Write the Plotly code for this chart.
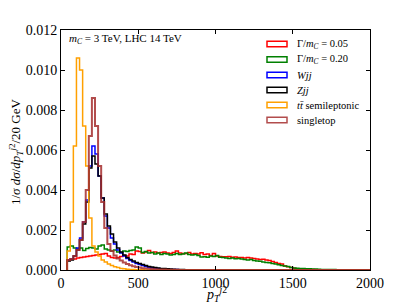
import numpy as np
import plotly.graph_objects as go

# ---- data: 20 GeV bins from 40 to 2000 GeV ----
BIN_EDGES = list(range(40, 2001, 20))

gamma005 = [
    0.00050, 0.00055, 0.00055, 0.00060, 0.00062, 0.00065, 0.00068, 0.00070, 0.00072, 0.00075,
    0.00078, 0.00080, 0.00082, 0.00070, 0.00062, 0.00060, 0.00062, 0.00068, 0.00072, 0.00070,
    0.00080, 0.00078, 0.00095, 0.00092, 0.00085, 0.00090, 0.00097, 0.00088, 0.00090, 0.00085,
    0.00088, 0.00090, 0.00085, 0.00083, 0.00087, 0.00095, 0.00085, 0.00082, 0.00083, 0.00088,
    0.00080, 0.00082, 0.00080, 0.00086, 0.00078, 0.00080, 0.00072, 0.00082, 0.00070, 0.00068,
    0.00066, 0.00066, 0.00068, 0.00064, 0.00065, 0.00063, 0.00062, 0.00060, 0.00062, 0.00060,
    0.00058, 0.00055, 0.00052, 0.00054, 0.00050, 0.00047, 0.00042, 0.00038, 0.00032, 0.00030,
    0.00020, 0.00016, 0.00012, 0.00009, 0.00006, 0.00005, 0.00004, 0.00003, 0.000025, 0.00002,
    0.000018, 0.000015, 0.000012, 0.00001, 0.00001, 0.000008, 0.000008, 0.000006, 0.000005, 0.000005,
    0.000004, 0.000004, 0.000003, 0.000003, 0.000002, 0.000002, 0.000002, 0.000001,
]

gamma020 = [
    0.00115, 0.00120, 0.00110, 0.00105, 0.00110, 0.00098, 0.00108, 0.00112, 0.00110, 0.00105,
    0.00120, 0.00125, 0.00105, 0.00100, 0.00095, 0.00100, 0.00090, 0.00088, 0.00095, 0.00092,
    0.00098, 0.00100, 0.00115, 0.00110, 0.00088, 0.00092, 0.00085, 0.00088, 0.00080, 0.00085,
    0.00078, 0.00082, 0.00080, 0.00075, 0.00078, 0.00083, 0.00078, 0.00080, 0.00085, 0.00078,
    0.00075, 0.00078, 0.00072, 0.00065, 0.00066, 0.00064, 0.00070, 0.00068, 0.00072, 0.00064,
    0.00062, 0.00060, 0.00058, 0.00060, 0.00056, 0.00058, 0.00055, 0.00053, 0.00050, 0.00052,
    0.00048, 0.00045, 0.00044, 0.00040, 0.00038, 0.00036, 0.00032, 0.00030, 0.00026, 0.00022,
    0.00020, 0.00017, 0.00013, 0.00010, 0.00009, 0.00008, 0.00007, 0.00006, 0.00006, 0.00005,
    0.00005, 0.00004, 0.00003, 0.00003, 0.000025, 0.00002, 0.00002, 0.000015, 0.000015, 0.00001,
    0.00001, 0.00001, 0.000008, 0.000008, 0.000006, 0.000005, 0.000004, 0.000003,
]

wjj = [
    0.00050, 0.00055, 0.00070, 0.00110, 0.00160, 0.00240, 0.00350, 0.00520, 0.00620, 0.00580,
    0.00470, 0.00360, 0.00270, 0.00210, 0.00160, 0.00130, 0.00100, 0.00085, 0.00070, 0.00058,
    0.00048, 0.00040, 0.00033, 0.00027, 0.00022, 0.00018, 0.00014, 0.00011, 0.00009, 0.00007,
    0.00006, 0.00005, 0.00004, 0.00003, 0.000025, 0.00002, 0.000015, 0.00001, 0.00001, 0.000008,
    0.000006, 0.000005, 0.000004, 0.000003, 0.000002, 0.000002, 0.000001, 0.000001, 0, 0,
    0, 0, 0, 0, 0, 0, 0, 0, 0, 0,
    0, 0, 0, 0, 0, 0, 0, 0, 0, 0,
    0, 0, 0, 0, 0, 0, 0, 0, 0, 0,
    0, 0, 0, 0, 0, 0, 0, 0, 0, 0,
    0, 0, 0, 0, 0, 0, 0, 0,
]

zjj = [
    0.00045, 0.00050, 0.00070, 0.00100, 0.00150, 0.00230, 0.00340, 0.00510, 0.00570, 0.00530,
    0.00470, 0.00360, 0.00280, 0.00220, 0.00180, 0.00140, 0.00110, 0.00090, 0.00075, 0.00063,
    0.00053, 0.00045, 0.00038, 0.00032, 0.00027, 0.00022, 0.00018, 0.00015, 0.00012, 0.00010,
    0.00008, 0.00007, 0.00006, 0.00005, 0.00004, 0.00003, 0.000025, 0.00002, 0.000015, 0.000012,
    0.00001, 0.000008, 0.000006, 0.000005, 0.000004, 0.000003, 0.000002, 0.000002, 0.000001, 0.000001,
    0, 0, 0, 0, 0, 0, 0, 0, 0, 0,
    0, 0, 0, 0, 0, 0, 0, 0, 0, 0,
    0, 0, 0, 0, 0, 0, 0, 0, 0, 0,
    0, 0, 0, 0, 0, 0, 0, 0, 0, 0,
    0, 0, 0, 0, 0, 0, 0, 0,
]

ttbar = [
    0.00095, 0.00240, 0.00620, 0.01060, 0.01000, 0.00720, 0.00520, 0.00260, 0.00120, 0.00090,
    0.00070, 0.00050, 0.00040, 0.00030, 0.00022, 0.00016, 0.00012, 0.00008, 0.00006, 0.00004,
    0.00003, 0.00002, 0.000015, 0.00001, 0.00001, 0.000005, 0.000003, 0.000002, 0, 0,
    0, 0, 0, 0, 0, 0, 0, 0, 0, 0,
    0, 0, 0, 0, 0, 0, 0, 0, 0, 0,
    0, 0, 0, 0, 0, 0, 0, 0, 0, 0,
    0, 0, 0, 0, 0, 0, 0, 0, 0, 0,
    0, 0, 0, 0, 0, 0, 0, 0, 0, 0,
    0, 0, 0, 0, 0, 0, 0, 0, 0, 0,
    0, 0, 0, 0, 0, 0, 0, 0,
]

singletop = [
    0.00050, 0.00055, 0.00070, 0.00100, 0.00150, 0.00240, 0.00400, 0.00670, 0.00860, 0.00720,
    0.00520, 0.00340, 0.00210, 0.00130, 0.00095, 0.00072, 0.00058, 0.00048, 0.00038, 0.00030,
    0.00024, 0.00019, 0.00015, 0.00012, 0.00009, 0.00007, 0.00006, 0.00005, 0.00004, 0.00003,
    0.000025, 0.00002, 0.000015, 0.000012, 0.00001, 0.000008, 0.000006, 0.000005, 0.000004, 0.000003,
    0.000002, 0.000002, 0.000001, 0.000001, 0, 0, 0, 0, 0, 0,
    0, 0, 0, 0, 0, 0, 0, 0, 0, 0,
    0, 0, 0, 0, 0, 0, 0, 0, 0, 0,
    0, 0, 0, 0, 0, 0, 0, 0, 0, 0,
    0, 0, 0, 0, 0, 0, 0, 0, 0, 0,
    0, 0, 0, 0, 0, 0, 0, 0,
]

series = [
    ("Γ/<i>m</i><sub><i>C</i></sub> = 0.05", gamma005, "#ff0000", 1.5),
    ("Γ/<i>m</i><sub><i>C</i></sub> = 0.20", gamma020, "#008000", 1.5),
    ("<i>Wjj</i>", wjj, "#0000ff", 1.5),
    ("<i>Zjj</i>", zjj, "#000000", 1.5),
    ("<i>tt\u0304</i> semileptonic", ttbar, "#ffa000", 1.5),
    ("singletop", singletop, "rgba(165,45,45,0.85)", 2.0),
]

X_TICKS = [0, 500, 1000, 1500, 2000]
Y_TICKS = [0.000, 0.002, 0.004, 0.006, 0.008, 0.010, 0.012]

FONT = "Liberation Serif, DejaVu Serif, serif"

fig = go.Figure()
edges = np.array(BIN_EDGES, dtype=float)
for name, vals, color, lw in series:
    x = np.concatenate([[edges[0]], edges[:-1], [edges[-1]]])
    y = np.concatenate([[0.0], np.array(vals, dtype=float), [0.0]])
    fig.add_trace(go.Scatter(x=x, y=y, mode="lines", line=dict(color=color, width=lw, shape="hv"),
                             name=name, showlegend=False, hoverinfo="skip"))

# layout geometry in window pixels (the page body has an 8 px margin)
OFF = 8
FIG_W, FIG_H = 411 - 2 * OFF, 308 - OFF
L, R, T, B = 61, 370, 30, 270
W, H = R - L, B - T
def px(xp):
    return (xp - L) / W
def py(yp):
    return (B - yp) / H

shapes = []
annotations = []
row_y = [44, 59.5, 75, 90, 105, 120]
for (name, vals, color, lw), ry in zip(series, row_y):
    shapes.append(dict(type="rect", xref="paper", yref="paper",
                       x0=px(267), x1=px(287), y0=py(ry + 2.8), y1=py(ry - 2.8),
                       line=dict(color=color, width=1.5), fillcolor="rgba(0,0,0,0)"))
    annotations.append(dict(text=name, xref="paper", yref="paper", x=px(295), y=py(ry),
                            xanchor="left", yanchor="middle", showarrow=False,
                            font=dict(family=FONT, size=10.5, color="black")))

annotations.append(dict(text="<i>m</i><sub><i>C</i></sub> = 3 TeV, LHC 14 TeV", xref="paper", yref="paper",
                        x=px(67), y=py(39), xanchor="left", yanchor="middle", showarrow=False,
                        font=dict(family=FONT, size=11, color="black")))
# axis titles
annotations.append(dict(text="<i>p</i><sub><i>T</i></sub><sup><i>j</i>2</sup>", xref="paper", yref="paper",
                        x=px(216), y=py(294), xanchor="center", yanchor="middle", showarrow=False,
                        font=dict(family=FONT, size=14, color="black")))
annotations.append(dict(text="1/<i>σ</i> <i>dσ</i>/<i>dp</i><sub><i>T</i></sub><sup><i>j</i>2</sup>/20 GeV",
                        xref="paper", yref="paper", x=px(16), y=py(152), xanchor="center", yanchor="middle",
                        textangle=-90, showarrow=False, font=dict(family=FONT, size=13, color="black")))

fig.update_layout(
    width=FIG_W, height=FIG_H,
    margin=dict(l=L - OFF, r=(411 - OFF) - R, t=T - OFF, b=(FIG_H + OFF) - B, autoexpand=False),
    paper_bgcolor="white", plot_bgcolor="white",
    font=dict(family=FONT, size=13, color="black"),
    shapes=shapes, annotations=annotations,
    showlegend=False,
)
fig.update_xaxes(range=[0, 2000], tickvals=X_TICKS, ticks="inside", ticklen=4, tickcolor="black",
                 showline=True, linecolor="black", linewidth=1, mirror="ticks", showgrid=False,
                 zeroline=False, automargin=False, tickfont=dict(family=FONT, size=14))
fig.update_yaxes(range=[0, 0.012], tickvals=Y_TICKS, tickformat=".3f", ticks="inside", ticklen=4,
                 tickcolor="black", showline=True, linecolor="black", linewidth=1, mirror="ticks",
                 showgrid=False, zeroline=False, automargin=False, tickfont=dict(family=FONT, size=14))

fig.write_html("out.html")
